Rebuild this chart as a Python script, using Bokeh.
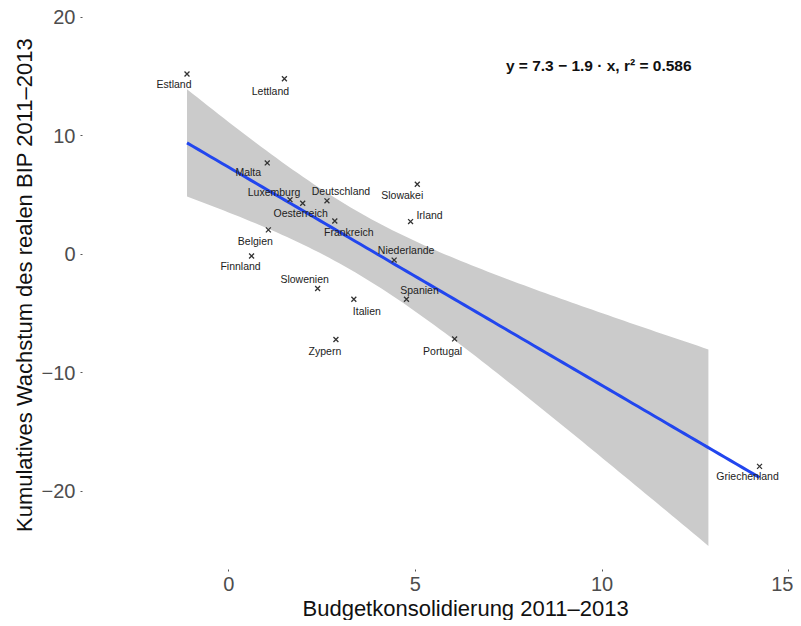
import numpy as np
from bokeh.plotting import figure
from bokeh.models import ColumnDataSource, FixedTicker, Range1d, Title
from bokeh.core.properties import value
from bokeh.embed import file_html
from bokeh.resources import INLINE

# ---- data ----
countries = ["Estland", "Lettland", "Malta", "Luxemburg", "Oesterreich", "Deutschland",
             "Frankreich", "Slowakei", "Irland", "Belgien", "Finnland", "Niederlande",
             "Slowenien", "Italien", "Spanien", "Zypern", "Portugal", "Griechenland"]
konsolidierung = [-1.12, 1.49, 1.03, 1.64, 1.98, 2.63,
                  2.84, 5.05, 4.87, 1.06, 0.61, 4.43,
                  2.38, 3.35, 4.76, 2.87, 6.05, 14.22]
wachstum = [15.2, 14.8, 7.7, 4.6, 4.3, 4.5,
            2.8, 5.9, 2.75, 2.05, -0.15, -0.5,
            -2.9, -3.8, -3.8, -7.2, -7.15, -17.9]
x_ticks = [0, 5, 10, 15]
y_ticks = [-20, -10, 0, 10, 20]
y_tick_labels = {-20: "\u221220", -10: "\u221210", 0: "0", 10: "10", 20: "20"}
band_x_max = 12.85
t_975_df16 = 2.12
annotation = "y = 7.3 \u2212 1.9 \u00b7 x,  r\u00b2 = 0.586"
x_title = "Budgetkonsolidierung 2011\u20132013"
y_title = "Kumulatives Wachstum des realen BIP 2011\u20132013"

# ---- layout (label offsets in screen px) ----
label_dx = [-13, -14, -19, -16, -2, 14, 14, -15, 19, -13, -11, 12, -13, 13, 13, -11, -12, -12]
label_dy = [10, 12, 9, -8, 10, -10, 11, 11, -7, 11, 10, -10, -10, 12, -9, 11, 12, 10]

x = np.array(konsolidierung)
y = np.array(wachstum)
n = len(x)
xbar, ybar = x.mean(), y.mean()
sxx = ((x - xbar) ** 2).sum()
b = ((x - xbar) * (y - ybar)).sum() / sxx
a = ybar - b * xbar
resid = y - (a + b * x)
s = np.sqrt((resid ** 2).sum() / (n - 2))

xl = np.linspace(x.min(), x.max(), 100)
yl = a + b * xl
xb = np.linspace(x.min(), band_x_max, 100)
se = s * np.sqrt(1.0 / n + (xb - xbar) ** 2 / sxx)
yb_fit = a + b * xb
upper = yb_fit + t_975_df16 * se
lower = yb_fit - t_975_df16 * se

p = figure(width=793, height=620, output_backend="svg", toolbar_location=None,
           x_range=Range1d(-3.92, 15.13), y_range=Range1d(-26.6, 21.4),
           min_border_left=82, min_border_right=0, min_border_top=0, min_border_bottom=20)
p.outline_line_color = None
p.grid.visible = False
p.background_fill_color = "white"

p.varea(x=xb, y1=lower, y2=upper, fill_color="#CBCBCB", fill_alpha=1.0)
p.line(xl, yl, line_color="#2246EE", line_width=3)

src = ColumnDataSource(dict(x=konsolidierung, y=wachstum, name=countries,
                            dx=label_dx, dy=label_dy))
p.scatter("x", "y", source=src, marker="x", size=7, line_color="#333333", line_width=1.3)
p.text("x", "y", text="name", source=src, x_offset="dx", y_offset="dy",
       text_align="center", text_baseline="middle", text_font=value("Liberation Sans"),
       text_font_size="10.5px", text_color="#222222")

p.text(x=[9.97], y=[15.9], text=[annotation], text_align="center", text_baseline="middle",
       text_font=value("Liberation Sans"), text_font_size="15.5px", text_font_style="bold",
       text_color="#111111")

for ax in (p.xaxis[0], p.yaxis[0]):
    ax.axis_line_color = None
    ax.minor_tick_line_color = None
    ax.major_tick_in = 0
    ax.major_tick_out = 2
    ax.major_tick_line_color = "#555555"
    ax.major_label_text_font = "Liberation Sans"
    ax.major_label_text_font_size = "20px"
    ax.major_label_text_color = "#4D4D4D"
    ax.axis_label_text_font = "Liberation Sans"
    ax.axis_label_text_font_size = "22px"
    ax.axis_label_text_font_style = "normal"
    ax.axis_label_text_color = "#111111"
    ax.axis_label_standoff = 2

p.xaxis.ticker = FixedTicker(ticks=x_ticks)
p.yaxis.ticker = FixedTicker(ticks=y_ticks)
p.yaxis.major_label_overrides = y_tick_labels
p.yaxis.axis_label = y_title
p.xaxis.major_label_standoff = 5
p.yaxis.major_label_standoff = 5
p.yaxis.major_label_orientation = "horizontal"

p.add_layout(Title(text=x_title, align="left", offset=220, text_font="Liberation Sans",
                   text_font_size="22px", text_font_style="normal", text_color="#111111",
                   standoff=0), "below")

open("out.html", "w").write(file_html(p, INLINE))
